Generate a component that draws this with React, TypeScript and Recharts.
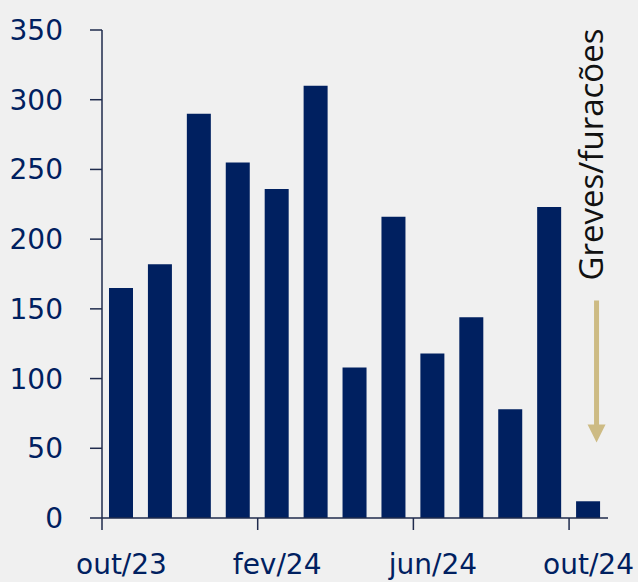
import React from 'react';
import { BarChart, Bar, XAxis, YAxis, ReferenceDot } from 'recharts';

const months = [
  'out/23', 'nov/23', 'dez/23', 'jan/24', 'fev/24', 'mar/24', 'abr/24',
  'mai/24', 'jun/24', 'jul/24', 'ago/24', 'set/24', 'out/24',
];
const values = [165, 182, 290, 255, 236, 310, 108, 216, 118, 144, 78, 223, 12];
const yTicks = [0, 50, 100, 150, 200, 250, 300, 350];
const noteText = 'Greves/furacões';

const data = months.map((m, i) => ({ month: m, value: values[i] }));

const W = 638;
const H = 582;
const margin = { top: 30, right: 30, bottom: 0, left: 0 };
const yAxisWidth = 102;
const band = (W - margin.left - margin.right - yAxisWidth) / months.length;

const NAVY = '#002060';
const AXIS = '#1f2b4d';
const FONT = '"DejaVu Sans", sans-serif';

function MonthTick(props: { x?: number; y?: number; payload?: { value: string } }) {
  const { x = 0, y = 0, payload } = props;
  const edge = x - band / 2;
  return (
    <g>
      <line x1={edge} y1={y} x2={edge} y2={y + 12} stroke={AXIS} strokeWidth={1.5} />
      <text x={x} y={y + 56} textAnchor="middle" fill={NAVY} fontSize={28} fontFamily={FONT}>
        {payload?.value}
      </text>
    </g>
  );
}

function NoteArrow(props: { cx?: number; cy?: number }) {
  const { cx = 0, cy = 0 } = props;
  const ax = cx + 8;
  return (
    <g>
      <text
        x={cx + 14}
        y={cy - 146}
        transform={`rotate(-90 ${cx + 14} ${cy - 146})`}
        textAnchor="middle"
        fill="#111"
        fontSize={33}
        fontFamily='"Open Sans", sans-serif'
      >
        {noteText}
      </text>
      <rect x={ax - 2.5} y={cy} width={5} height={126} fill="#cdbb84" />
      <path d={`M ${ax - 9} ${cy + 124} L ${ax + 9} ${cy + 124} L ${ax} ${cy + 142} Z`} fill="#cdbb84" />
    </g>
  );
}

export default function App() {
  return (
    <div style={{ width: W, height: H, background: '#f0f0f0' }}>
      <style>{'body{margin:0}'}</style>
      <BarChart width={W} height={H} data={data} margin={margin}>
        <XAxis
          dataKey="month"
          interval={3}
          tickLine={false}
          tickSize={0}
          tickMargin={0}
          height={64}
          axisLine={{ stroke: AXIS, strokeWidth: 1.5 }}
          tick={<MonthTick />}
        />
        <YAxis
          width={yAxisWidth}
          domain={[0, 350]}
          ticks={yTicks}
          tickSize={12}
          tickMargin={27}
          axisLine={{ stroke: AXIS, strokeWidth: 1.5 }}
          tickLine={{ stroke: AXIS, strokeWidth: 1.5 }}
          tick={{ fill: NAVY, fontSize: 28, fontFamily: FONT }}
        />
        <Bar dataKey="value" fill={NAVY} barSize={24} isAnimationActive={false} />
        <ReferenceDot x="out/24" y={156} r={0} shape={<NoteArrow />} ifOverflow="visible" />
      </BarChart>
    </div>
  );
}
